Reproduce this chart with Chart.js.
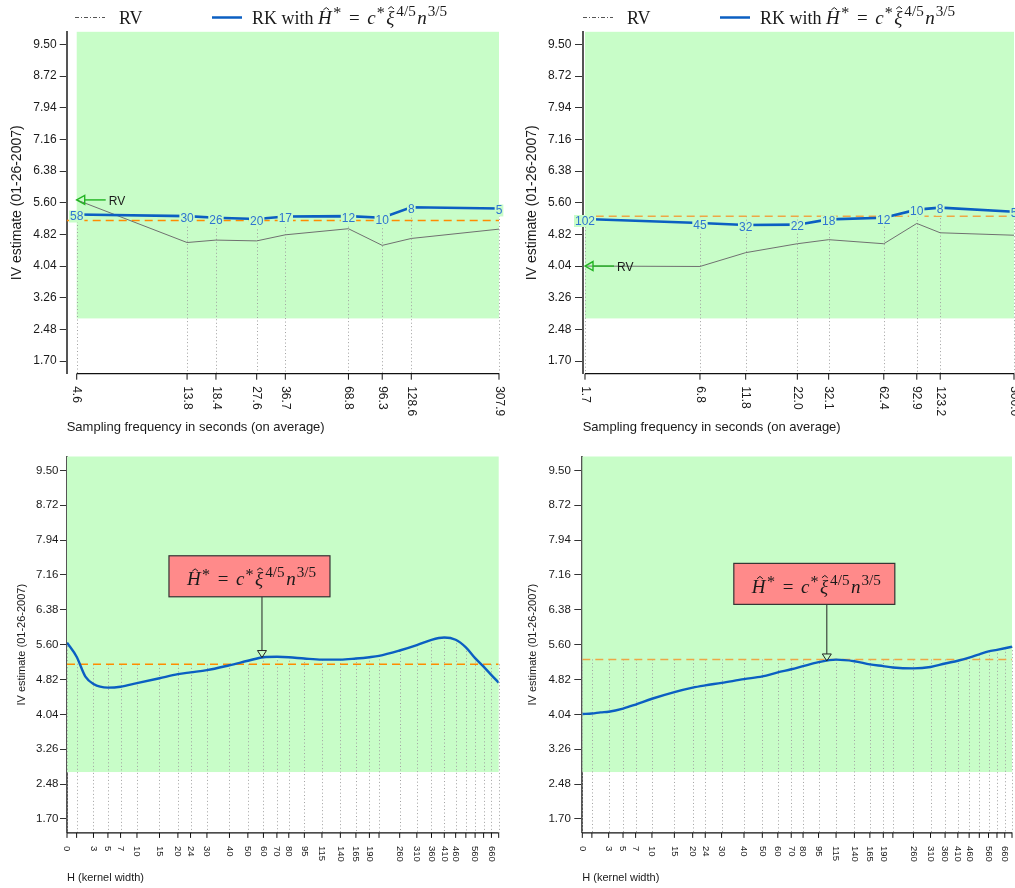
<!DOCTYPE html>
<html lang="en">
<head>
<meta charset="utf-8">
<title>IV estimates, 01-26-2007</title>
<script src="https://cdn.jsdelivr.net/npm/chart.js@4.4.1/dist/chart.umd.min.js"></script>
<style>
  html, body { margin: 0; padding: 0; background: #ffffff; }
  #page { position: relative; width: 1015px; height: 888px; overflow: hidden; }
  #page canvas { position: absolute; display: block; }
</style>
</head>
<body>
<div id="page">
  <canvas id="freqA" width="510" height="440" style="left:0;top:0"></canvas>
  <canvas id="freqB" width="505" height="440" style="left:510px;top:0"></canvas>
  <canvas id="kernA" width="510" height="448" style="left:0;top:440px"></canvas>
  <canvas id="kernB" width="505" height="448" style="left:510px;top:440px"></canvas>
</div>
<script>
// ---------------- data ----------------
const yTicks = [1.70, 2.48, 3.26, 4.04, 4.82, 5.60, 6.38, 7.16, 7.94, 8.72, 9.50];
const bandLow = 2.75;

// RV and kernel (RK) estimates against average sampling frequency
const freqA = [4.6, 13.8, 18.4, 27.6, 36.7, 68.8, 96.3, 128.6, 307.9];
const freqALabels = ['4.6', '13.8', '18.4', '27.6', '36.7', '68.8', '96.3', '128.6', '307.9'];
const rvA = [5.67, 4.62, 4.68, 4.66, 4.81, 4.96, 4.55, 4.72, 4.95];
const rkA = [5.31, 5.27, 5.23, 5.20, 5.26, 5.27, 5.23, 5.49, 5.46];
const hOptA = [58, 30, 26, 20, 17, 12, 10, 8, 5];
const rvRefA = 5.16;

const freqB = [1.7, 6.8, 11.8, 22.0, 32.1, 62.4, 92.9, 123.2, 300.0];
const freqBLabels = ['1.7', '6.8', '11.8', '22.0', '32.1', '62.4', '92.9', '123.2', '300.0'];
const rvB = [4.04, 4.03, 4.37, 4.59, 4.69, 4.59, 5.09, 4.86, 4.80];
const rkB = [5.20, 5.10, 5.05, 5.06, 5.19, 5.23, 5.43, 5.48, 5.38];
const hOptB = [102, 45, 32, 22, 18, 12, 10, 8, 5];
const rvRefB = 5.27;

// RK estimate as a function of the kernel width H
const kernelTicks = [0, 1, 3, 5, 7, 10, 15, 20, 24, 30, 40, 50, 60, 70, 80, 95, 115, 140, 165, 190, 210, 260, 310, 360, 410, 460, 510, 560, 610, 660, 710];
const kernelTickLabels = ['0', '', '3', '5', '7', '10', '15', '20', '24', '30', '40', '50', '60', '70', '80', '95', '115', '140', '165', '190', '', '260', '310', '360', '410', '460', '', '560', '', '660', ''];
const kernelH = [0, 1, 2, 3, 5, 7, 10, 15, 20, 24, 30, 40, 50, 60, 70, 80, 95, 115, 140, 165, 190, 210, 260, 310, 360, 410, 460, 510, 560, 610, 660, 710];
const rkKernelA = [5.645, 5.33, 4.885, 4.72, 4.64, 4.66, 4.74, 4.85, 4.94, 4.98, 5.03, 5.14, 5.24, 5.32, 5.33, 5.32, 5.29, 5.265, 5.265, 5.29, 5.32, 5.35, 5.47, 5.59, 5.71, 5.76, 5.71, 5.54, 5.30, 5.11, 4.92, 4.75];
const rkKernelB = [4.05, 4.06, 4.085, 4.10, 4.17, 4.26, 4.39, 4.54, 4.64, 4.69, 4.745, 4.83, 4.89, 4.98, 5.05, 5.12, 5.21, 5.265, 5.23, 5.16, 5.12, 5.09, 5.07, 5.10, 5.18, 5.24, 5.31, 5.385, 5.45, 5.485, 5.52, 5.555];
const hStarA = 59;
const hStarB = 104;

// ---------------- styling ----------------
const SANS = '"Liberation Sans", Arial, Helvetica, sans-serif';
const SERIF = '"Liberation Serif", "Times New Roman", serif';
const BAND = 'rgb(200,253,200)';
const BLUE = '#0b5fc2';
const LABEL_BLUE = '#2f74d0';

// warped axis for the kernel width: spacing follows log(1 + H/10)
const warp = v => Math.log1p(v / 10);
class KernelWidthScale extends Chart.LinearScale {
  static id = 'kernelwidth';
  getPixelForValue(value) {
    const a = warp(this.min), b = warp(this.max);
    return this.getPixelForDecimal((warp(value) - a) / (b - a));
  }
  getValueForPixel(pixel) {
    const a = warp(this.min), b = warp(this.max);
    return Math.expm1(a + this.getDecimalForPixel(pixel) * (b - a)) * 10;
  }
}
Chart.register(KernelWidthScale);

// ---------------- formula text ----------------
function formulaItems(size, mathSize, prefix) {
  const sup = mathSize * 0.8;
  const items = [];
  if (prefix) items.push({ t: prefix, f: `${size}px ${SERIF}` });
  items.push(
    { t: 'H', f: `italic ${mathSize}px ${SERIF}`, hat: true },
    { t: '*', f: `${mathSize * 0.85}px ${SERIF}`, dy: -0.3 * mathSize, dx: 1.5 },
    { gap: 0.4 * mathSize },
    { t: '=', f: `${mathSize}px ${SERIF}` },
    { gap: 0.4 * mathSize },
    { t: 'c', f: `italic ${mathSize}px ${SERIF}` },
    { t: '*', f: `${mathSize * 0.85}px ${SERIF}`, dy: -0.3 * mathSize, dx: 1 },
    { t: 'ξ', f: `italic ${mathSize}px ${SERIF}`, hat: true, dx: 1.5 },
    { t: '4/5', f: `${sup}px ${SERIF}`, dy: -0.42 * mathSize, dx: 2 },
    { t: 'n', f: `italic ${mathSize}px ${SERIF}`, dx: 1.5 },
    { t: '3/5', f: `${sup}px ${SERIF}`, dy: -0.42 * mathSize, dx: 1 }
  );
  return items;
}

function drawFormula(ctx, x, y, size, mathSize, prefix, color, measureOnly) {
  ctx.save();
  ctx.textAlign = 'left';
  ctx.textBaseline = 'alphabetic';
  ctx.fillStyle = color;
  ctx.strokeStyle = color;
  let cx = x;
  for (const it of formulaItems(size, mathSize, prefix)) {
    if (it.gap) { cx += it.gap; continue; }
    cx += it.dx || 0;
    ctx.font = it.f;
    const m = ctx.measureText(it.t);
    if (!measureOnly) {
      ctx.fillText(it.t, cx, y + (it.dy || 0));
      if (it.hat) {
        const top = y - m.actualBoundingBoxAscent - 0.06 * mathSize;
        const hx = cx + m.width * 0.6;
        const hw = 0.15 * mathSize, hh = 0.12 * mathSize;
        ctx.lineWidth = 1;
        ctx.beginPath();
        ctx.moveTo(hx - hw, top);
        ctx.lineTo(hx, top - hh);
        ctx.lineTo(hx + hw, top);
        ctx.stroke();
      }
    }
    cx += m.width;
  }
  ctx.restore();
  return cx - x;
}

// ---------------- shared axis helpers ----------------
function yAxis(p) {
  return {
    type: 'linear', position: 'left', min: 1.388, max: 9.812,
    afterBuildTicks: s => { s.ticks = yTicks.map(v => ({ value: v })); },
    afterFit: s => { s.width = p.axisWidth; },
    ticks: {
      callback: v => Number(v).toFixed(2),
      font: { family: SANS, size: p.yTickFont }, color: '#1a1a1a',
      padding: p.yTickPad, autoSkip: false
    },
    grid: { display: true, drawOnChartArea: false, drawTicks: true, tickLength: p.tickLen, tickColor: '#333', tickWidth: 1 },
    border: { display: true, color: '#555', width: 2 },
    title: {
      display: true, text: 'IV estimate (01-26-2007)', color: '#1a1a1a',
      font: { family: SANS, size: p.yTitleFont }, padding: { top: p.yTitlePad, bottom: 0 }
    }
  };
}

function drawXAxis(chart, values, labels, o) {
  const { ctx, chartArea: a, scales: { x } } = chart;
  const yA = a.bottom;
  const xs = values.map(v => x.getPixelForValue(v));
  ctx.save();
  ctx.strokeStyle = '#111';
  ctx.lineWidth = 1.3;
  ctx.beginPath();
  ctx.moveTo(xs[0], yA);
  ctx.lineTo(xs[xs.length - 1], yA);
  ctx.stroke();
  ctx.lineWidth = 1;
  xs.forEach(px => {
    ctx.beginPath();
    ctx.moveTo(px, yA);
    ctx.lineTo(px, yA + o.tickLen);
    ctx.stroke();
  });
  ctx.fillStyle = '#1a1a1a';
  ctx.font = `${o.font}px ${SANS}`;
  ctx.textAlign = 'left';
  ctx.textBaseline = 'middle';
  labels.forEach((t, i) => {
    if (!t) return;
    ctx.save();
    ctx.translate(xs[i], yA + o.tickLen + o.gap);
    ctx.rotate(Math.PI / 2);
    ctx.fillText(t, 0, 0);
    ctx.restore();
  });
  ctx.font = `${o.titleFont}px ${SANS}`;
  ctx.fillText(o.title, a.left, o.titleY);
  ctx.restore();
}

function dropLines(chart, xsVals, ysVals) {
  const { ctx, chartArea: a, scales: { x, y } } = chart;
  ctx.save();
  ctx.strokeStyle = '#a0a0a0';
  ctx.lineWidth = 1;
  ctx.setLineDash([1, 2.5]);
  xsVals.forEach((v, i) => {
    const px = Math.round(x.getPixelForValue(v)) + 0.5;
    const py = y.getPixelForValue(ysVals[i]);
    ctx.beginPath();
    ctx.moveTo(px, py);
    ctx.lineTo(px, a.bottom);
    ctx.stroke();
  });
  ctx.restore();
}

function openHead(ctx, tipX, tipY, dir) {
  // open triangular arrow head; dir 'left' or 'down'
  ctx.beginPath();
  if (dir === 'left') {
    ctx.moveTo(tipX, tipY);
    ctx.lineTo(tipX + 8, tipY - 4.5);
    ctx.lineTo(tipX + 8, tipY + 4.5);
  } else {
    ctx.moveTo(tipX, tipY);
    ctx.lineTo(tipX - 4.5, tipY - 7);
    ctx.lineTo(tipX + 4.5, tipY - 7);
  }
  ctx.closePath();
  ctx.stroke();
}

// ---------------- frequency panels ----------------
function freqPanel(id, p) {
  const panelPlugin = {
    id: 'freqPanel',
    beforeDatasetsDraw(chart) {
      const { ctx, chartArea: a, scales: { x, y } } = chart;
      const x0 = x.getPixelForValue(p.freq[0]);
      const x1 = x.getPixelForValue(p.freq[p.freq.length - 1]);
      const yb = y.getPixelForValue(bandLow);
      ctx.save();
      ctx.fillStyle = BAND;
      ctx.fillRect(x0, a.top, x1 - x0, yb - a.top);
      ctx.restore();
      dropLines(chart, p.freq, p.rk.map(v => Math.max(v, p.rvRef)));
    },
    afterDatasetsDraw(chart) {
      const { ctx, scales: { x, y } } = chart;
      ctx.save();
      // kernel width used at each frequency
      ctx.font = `12px ${SANS}`;
      ctx.textAlign = 'center';
      ctx.textBaseline = 'middle';
      p.freq.forEach((f, i) => {
        const px = x.getPixelForValue(f);
        const py = y.getPixelForValue(p.rk[i]) + 2;
        const t = String(p.hOpt[i]);
        const w = ctx.measureText(t).width;
        ctx.fillStyle = BAND;
        ctx.fillRect(px - w / 2 - 1, py - 6, w + 2, 12);
        ctx.fillStyle = LABEL_BLUE;
        ctx.fillText(t, px, py + 0.5);
      });
      // arrow marking the highest-frequency RV
      const tx = x.getPixelForValue(p.freq[0]);
      const ty = y.getPixelForValue(p.rv[0]);
      ctx.strokeStyle = '#22b422';
      ctx.lineWidth = 1.4;
      ctx.beginPath();
      ctx.moveTo(tx + 8, ty);
      ctx.lineTo(tx + 29, ty);
      ctx.stroke();
      openHead(ctx, tx, ty, 'left');
      ctx.fillStyle = '#1a1a1a';
      ctx.font = `12px ${SANS}`;
      ctx.textAlign = 'left';
      ctx.fillText('RV', tx + 32, ty + 2);
      // legend
      ctx.strokeStyle = '#555';
      ctx.lineWidth = 1;
      ctx.setLineDash([4, 2, 1, 2]);
      ctx.beginPath();
      ctx.moveTo(p.legendX, 17.5);
      ctx.lineTo(p.legendX + 30, 17.5);
      ctx.stroke();
      ctx.setLineDash([]);
      ctx.fillStyle = '#1a1a1a';
      ctx.font = `18px ${SERIF}`;
      ctx.textBaseline = 'alphabetic';
      ctx.fillText('RV', p.legendX + 44, 24);
      ctx.strokeStyle = BLUE;
      ctx.lineWidth = 2.5;
      ctx.beginPath();
      ctx.moveTo(p.legendX + 137, 17.5);
      ctx.lineTo(p.legendX + 167, 17.5);
      ctx.stroke();
      ctx.restore();
      drawFormula(ctx, p.legendX + 177, 24, 18, 19, 'RK with ', '#1a1a1a', false);
      drawXAxis(chart, p.freq, p.freqLabels, { tickLen: 6, gap: 6.5, font: 12, titleFont: 13, title: 'Sampling frequency in seconds (on average)', titleY: 427.3 });
    }
  };

  return new Chart(document.getElementById(id), {
    type: 'line',
    data: {
      datasets: [
        { label: 'RK', order: 1, data: p.freq.map((f, i) => ({ x: f, y: p.rk[i] })), borderColor: BLUE, borderWidth: 2.6, pointRadius: 0, tension: 0 },
        { label: 'RV', order: 2, data: p.freq.map((f, i) => ({ x: f, y: p.rv[i] })), borderColor: '#707070', borderWidth: 1, pointRadius: 0, tension: 0 },
        { label: 'RV (reference)', order: 3, data: [{ x: p.xMin, y: p.rvRef }, { x: p.freq[p.freq.length - 1], y: p.rvRef }], borderColor: p.refColor, borderWidth: 1.5, borderDash: [8, 5], pointRadius: 0 }
      ]
    },
    options: {
      responsive: false, animation: false, devicePixelRatio: 1,
      layout: { padding: { top: 31.8, bottom: 66.3, left: 0, right: p.padRight } },
      plugins: { legend: { display: false }, tooltip: { enabled: false } },
      scales: {
        x: { type: 'logarithmic', min: p.xMin, max: p.xMax, bounds: 'data', display: false },
        y: yAxis(p)
      }
    },
    plugins: [panelPlugin]
  });
}

// ---------------- kernel-width panels ----------------
function interpCurve(hs, vs, h) {
  for (let i = 1; i < hs.length; i++) {
    if (h <= hs[i]) {
      const t = (warp(h) - warp(hs[i - 1])) / (warp(hs[i]) - warp(hs[i - 1]));
      return vs[i - 1] + t * (vs[i] - vs[i - 1]);
    }
  }
  return vs[vs.length - 1];
}

function kernelPanel(id, p) {
  const panelPlugin = {
    id: 'kernelPanel',
    beforeDatasetsDraw(chart) {
      const { ctx, chartArea: a, scales: { y } } = chart;
      const yb = y.getPixelForValue(bandLow);
      ctx.save();
      ctx.fillStyle = BAND;
      ctx.fillRect(a.left, a.top, a.right - a.left, yb - a.top);
      ctx.restore();
      dropLines(chart, kernelTicks, kernelTicks.map(h => Math.max(interpCurve(kernelH, p.rk, h), p.rvRef)));
    },
    afterDatasetsDraw(chart) {
      const { ctx, scales: { x, y } } = chart;
      const hx = x.getPixelForValue(p.hStar);
      const tipY = y.getPixelForValue(interpCurve(kernelH, p.rk, p.hStar));
      const boxTop = y.getPixelForValue(p.boxTop);
      const boxH = 41, boxW = 161, boxL = hx - 93;
      ctx.save();
      ctx.strokeStyle = '#222';
      ctx.lineWidth = 1;
      ctx.beginPath();
      ctx.moveTo(hx, boxTop + boxH);
      ctx.lineTo(hx, tipY - 7);
      ctx.stroke();
      openHead(ctx, hx, tipY, 'down');
      ctx.fillStyle = '#ff8a8a';
      ctx.fillRect(boxL, boxTop, boxW, boxH);
      ctx.strokeStyle = '#333';
      ctx.lineWidth = 1.2;
      ctx.strokeRect(boxL, boxTop, boxW, boxH);
      ctx.restore();
      const w = drawFormula(ctx, 0, 0, 18, 19, '', '#1a1a1a', true);
      drawFormula(ctx, boxL + (boxW - w) / 2 + 2, boxTop + 29.5, 18, 19, '', '#1a1a1a', false);
      drawXAxis(chart, kernelTicks, kernelTickLabels, { tickLen: 5, gap: 8, font: 9.5, titleFont: 11, title: 'H (kernel width)', titleY: 438 });
    }
  };

  return new Chart(document.getElementById(id), {
    type: 'line',
    data: {
      datasets: [
        { label: 'RK', order: 1, data: kernelH.map((h, i) => ({ x: h, y: p.rk[i] })), borderColor: BLUE, borderWidth: 2.4, pointRadius: 0, cubicInterpolationMode: 'monotone' },
        { label: 'RV (reference)', order: 2, data: [{ x: kernelTicks[0], y: p.rvRef }, { x: kernelTicks[kernelTicks.length - 1], y: p.rvRef }], borderColor: p.refColor, borderWidth: 1.5, borderDash: [8, 5], pointRadius: 0 }
      ]
    },
    options: {
      responsive: false, animation: false, devicePixelRatio: 1,
      layout: { padding: { top: 16.5, bottom: 55.1, left: 0, right: p.padRight } },
      plugins: { legend: { display: false }, tooltip: { enabled: false } },
      scales: {
        x: { type: 'kernelwidth', min: kernelTicks[0], max: kernelTicks[kernelTicks.length - 1], bounds: 'data', display: false },
        y: yAxis(p)
      }
    },
    plugins: [panelPlugin]
  });
}

freqPanel('freqA', {
  freq: freqA, freqLabels: freqALabels, rv: rvA, rk: rkA, hOpt: hOptA, rvRef: rvRefA,
  xMin: 4.164, xMax: 311.0, padRight: 10, refColor: '#ff8c00', legendX: 75,
  axisWidth: 66.7, yTickFont: 12, yTickPad: 3, tickLen: 7, yTitleFont: 14, yTitlePad: 8.3
});
freqPanel('freqB', {
  freq: freqB, freqLabels: freqBLabels, rv: rvB, rk: rkB, hOpt: hOptB, rvRef: rvRefB,
  xMin: 1.6535, xMax: 303.6, padRight: 0, refColor: '#eda746', legendX: 73,
  axisWidth: 72.7, yTickFont: 12, yTickPad: 3.7, tickLen: 7.7, yTitleFont: 14, yTitlePad: 13.3
});
kernelPanel('kernA', {
  rk: rkKernelA, rvRef: rvRefA, hStar: hStarA, boxTop: 7.59, padRight: 11.3, refColor: '#ff8c00',
  axisWidth: 67, yTickFont: 11.5, yTickPad: 1.5, tickLen: 7, yTitleFont: 11, yTitlePad: 15.4
});
kernelPanel('kernB', {
  rk: rkKernelB, rvRef: rvRefB, hStar: hStarB, boxTop: 7.42, padRight: 3, refColor: '#eda746',
  axisWidth: 72.3, yTickFont: 11.5, yTickPad: 3.5, tickLen: 8, yTitleFont: 11, yTitlePad: 16.2
});
</script>
</body>
</html>
